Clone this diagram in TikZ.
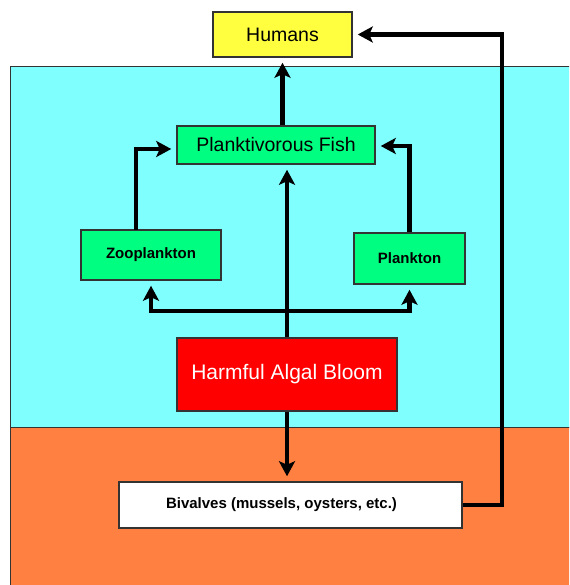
\documentclass[tikz,border=0pt]{standalone}
\usepackage{fontspec}
\setmainfont{Liberation Sans}
\usetikzlibrary{arrows.meta}
\definecolor{water}{HTML}{80FFFF}
\definecolor{sediment}{HTML}{FF8040}
\definecolor{humyellow}{HTML}{FFFF40}
\definecolor{fishgreen}{HTML}{00FF80}
\definecolor{habred}{HTML}{FF0000}
\definecolor{edge}{HTML}{333333}
\tikzset{
  box/.style={draw=edge, line width=1.5pt, inner sep=0pt, align=center},
  arr/.style={line width=4.5pt, -{Stealth[length=15pt,width=16pt,inset=3.5pt]}, shorten >=5pt},
  lbl/.style={font=\fontsize{19.5}{22}\selectfont},
  blbl/.style={font=\fontsize{15}{18}\selectfont\bfseries},
}
\begin{document}
\begin{tikzpicture}[x=1pt,y=-1pt]
\useasboundingbox (0,0) rectangle (569,585);
\clip (0,0) rectangle (569,585);
\fill[white] (0,0) rectangle (569,585);
\draw[fill=water, draw=edge, line width=1pt] (10,67) rectangle (575,427);
\draw[fill=sediment, draw=edge, line width=1pt] (10,427) rectangle (575,590);

\node[box, fill=humyellow, minimum width=139pt, minimum height=45pt, lbl] (humans) at (282.5,34.5) {Humans};
\node[box, fill=fishgreen, minimum width=198pt, minimum height=38pt, lbl] (fish) at (276,145) {Planktivorous Fish};
\node[box, fill=fishgreen, minimum width=140pt, minimum height=50pt, blbl] (zoo) at (151,255) {Zooplankton};
\node[box, fill=fishgreen, minimum width=111pt, minimum height=51pt, blbl] (plank) at (409.5,258.5) {Plankton};
\node[box, fill=habred, minimum width=220pt, minimum height=73pt, text=white, font=\fontsize{21}{24}\selectfont] (hab) at (287,374.5) {Harmful Algal Bloom};
\node[box, fill=white, minimum width=343pt, minimum height=46pt, blbl] (biv) at (290.5,505) {\hspace*{-18pt}Bivalves (mussels, oysters, etc.)};

\coordinate (rt) at (502,34.5);
\coordinate (zt) at (136,230);
\coordinate (j) at (287,311);

\draw[arr] (humans.south |- fish.north) -- (humans.south);
\draw[arr] (biv.east) -| (rt) -- (humans.east);
\draw[arr] (zt) |- ([yshift=-4pt]fish.west);
\draw[arr] (plank.north) |- ([yshift=-1pt]fish.east);
\draw[arr] (hab.north) -- (hab.north |- fish.south);
\draw[arr] (j) -| (zoo.south);
\draw[arr] (j) -| (plank.south);
\draw[arr] (hab.south) -- (hab.south |- biv.north);
\end{tikzpicture}
\end{document}
